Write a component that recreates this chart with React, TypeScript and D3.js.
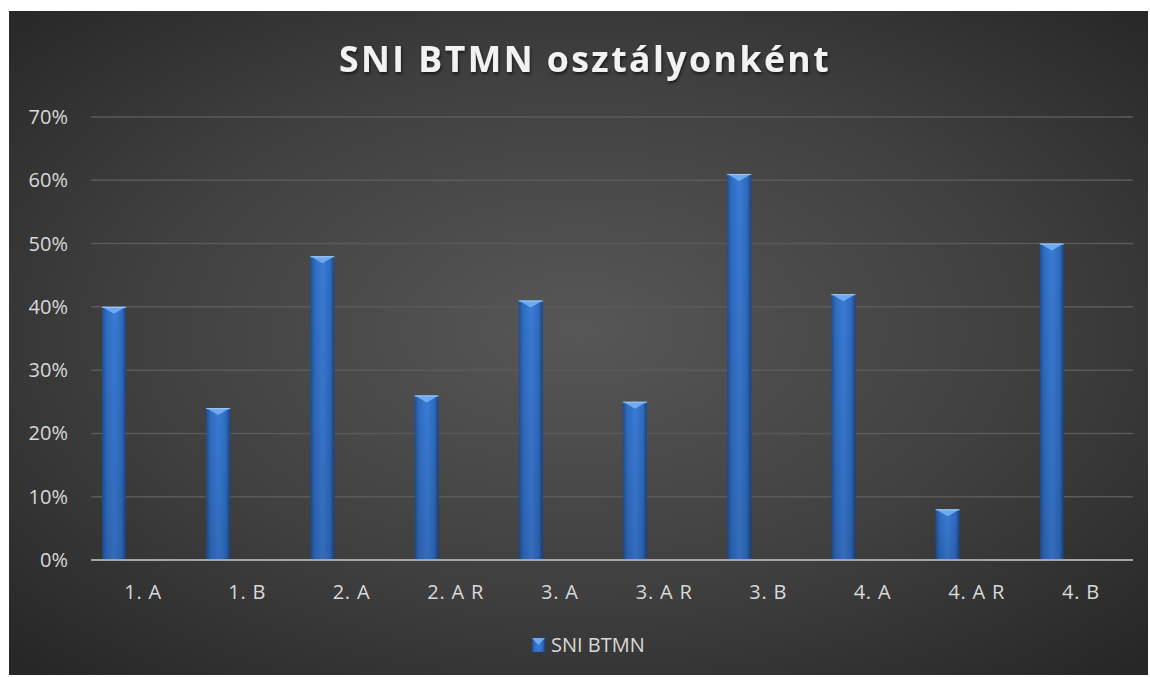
import React from "react";
import * as d3 from "d3";

const categories = ["1. A", "1. B", "2. A", "2. A R", "3. A", "3. A R", "3. B", "4. A", "4. A R", "4. B"];
const values = [0.40, 0.24, 0.48, 0.26, 0.41, 0.25, 0.61, 0.42, 0.08, 0.50];
const yTicks = [0, 0.1, 0.2, 0.3, 0.4, 0.5, 0.6, 0.7];
const seriesName = "SNI BTMN";
const title = "SNI BTMN osztályonként";

const W = 1150;
const H = 677;
const plot = { left: 91, right: 1133, top: 117, bottom: 560 };
const font = "'Open Sans', 'Noto Sans', sans-serif";

export default function App() {
  const x = d3.scaleBand<string>().domain(categories).range([plot.left, plot.right]).padding(0);
  const y = d3.scaleLinear().domain([0, 0.7]).range([plot.bottom, plot.top]);
  const bw = x.bandwidth();
  const barW = 24;
  const barOff = 11;
  const fmt = d3.format(".0%");

  return (
    <svg
      width={W}
      height={H}
      style={{ position: "absolute", left: 0, top: 0, background: "#fff" }}
    >
      <defs>
        <radialGradient id="bg" cx="50%" cy="48%" r="70%">
          <stop offset="0%" stopColor="#575757" />
          <stop offset="55%" stopColor="#404040" />
          <stop offset="100%" stopColor="#272727" />
        </radialGradient>
        <linearGradient id="barG" x1="0" x2="1" y1="0" y2="0">
          <stop offset="0%" stopColor="#1f4f94" />
          <stop offset="18%" stopColor="#2f6cc0" />
          <stop offset="50%" stopColor="#3a7bd5" />
          <stop offset="82%" stopColor="#2f6cc0" />
          <stop offset="100%" stopColor="#1b4584" />
        </linearGradient>
        <linearGradient id="barV" x1="0" x2="0" y1="0" y2="1">
          <stop offset="0%" stopColor="#000" stopOpacity="0" />
          <stop offset="100%" stopColor="#000" stopOpacity="0.12" />
        </linearGradient>
        <filter id="tshadow" x="-10%" y="-30%" width="120%" height="160%">
          <feDropShadow dx="1" dy="2" stdDeviation="1.5" floodColor="#000" floodOpacity="0.6" />
        </filter>
      </defs>

      <rect x={9} y={11} width={1139} height={664} fill="url(#bg)" />

      <text
        x={585}
        y={72}
        textAnchor="middle"
        fill="#f2f2f2"
        fontFamily={font}
        fontWeight={700}
        fontSize={35.5}
        letterSpacing={2.5}
        filter="url(#tshadow)"
      >
        {title}
      </text>

      {yTicks.map((t) => (
        <g key={t}>
          {t > 0 && (
            <line x1={plot.left} x2={plot.right} y1={y(t)} y2={y(t)} stroke="#5a5a5a" strokeWidth={1.5} />
          )}
          <text
            x={68}
            y={y(t)}
            dy="0.35em"
            textAnchor="end"
            fill="#d9d9d9"
            fontFamily={font}
            fontSize={20}
          >
            {fmt(t)}
          </text>
        </g>
      ))}

      {categories.map((c, i) => {
        const x0 = (x(c) as number) + barOff;
        const y0 = y(values[i]);
        const h = plot.bottom - y0;
        const bev = 7;
        return (
          <g key={c}>
            <rect x={x0} y={y0} width={barW} height={h} fill="url(#barG)" />
            <rect x={x0} y={y0} width={barW} height={h} fill="url(#barV)" />
            <path
              d={`M${x0},${y0} L${x0 + barW},${y0} L${x0 + barW / 2},${y0 + bev} Z`}
              fill="#6faaf0"
            />
            <line x1={x0} x2={x0 + barW} y1={y0 + 0.5} y2={y0 + 0.5} stroke="#9cc9f7" strokeWidth={1} />
          </g>
        );
      })}

      <line x1={plot.left} x2={plot.right} y1={plot.bottom} y2={plot.bottom} stroke="#a6a6a6" strokeWidth={2} />

      {categories.map((c) => (
        <text
          key={c}
          x={(x(c) as number) + bw / 2}
          y={599}
          textAnchor="middle"
          fill="#d9d9d9"
          fontFamily={font}
          fontSize={20}
          letterSpacing={0.8}
        >
          {c}
        </text>
      ))}

      <g>
        <rect x={532} y={638} width={13} height={14} fill="url(#barG)" stroke="#1b4584" strokeWidth={0.5} />
        <path d="M532,638 L545,638 L538.5,645 Z" fill="#6faaf0" />
        <text x={551} y={652} fill="#d9d9d9" fontFamily={font} fontSize={20}>
          {seriesName}
        </text>
      </g>
    </svg>
  );
}
